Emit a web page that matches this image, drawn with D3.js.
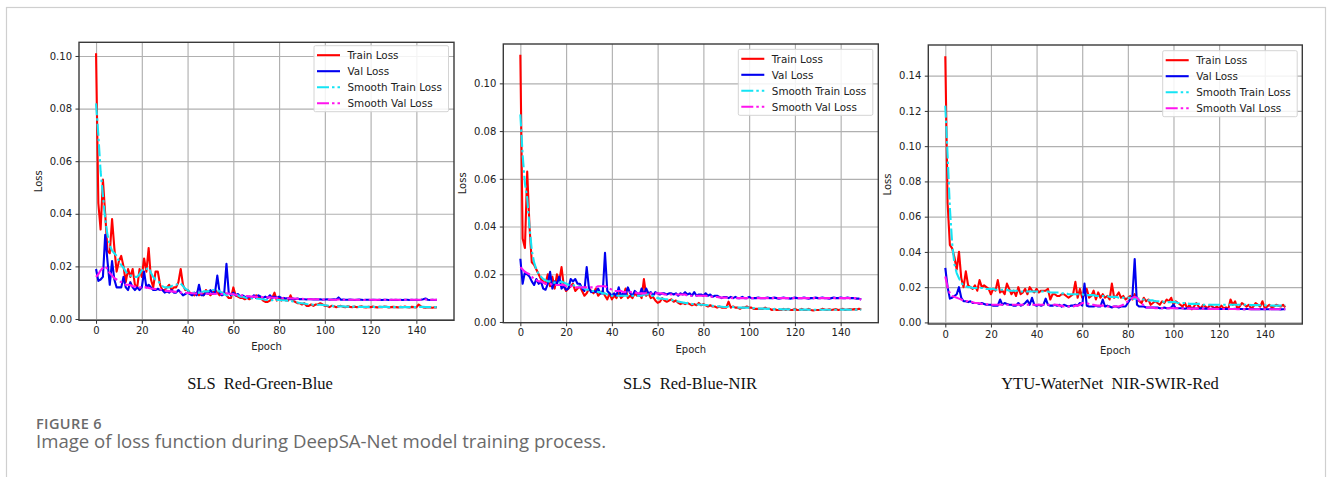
<!DOCTYPE html>
<html>
<head>
<meta charset="utf-8">
<script src="https://cdn.jsdelivr.net/npm/d3@7"></script>
<style>
  body { margin: 0; background: #fff; }
  svg { display: block; }
</style>
</head>
<body>
<div id="vis"></div>
<script>
const FRAME_WIDTH = 1330;
const FRAME_HEIGHT = 477;

// loss values, in units of 1e-3 (epochs 0..149)
const RGB_TRAIN = [
  101, 44, 34, 53, 40, 26, 25, 38, 27, 18,
  22, 24, 20, 14, 19, 16, 19, 13, 12, 19,
  16, 23, 18, 27, 15, 12, 18, 18, 13, 11,
  11, 12, 13, 11, 12, 12, 14, 19, 13, 11,
  11, 10, 9.5, 9, 10, 9, 10, 9, 11, 10,
  9, 10, 11, 10, 9, 10, 10, 9, 8, 8,
  12, 9, 8.5, 8, 8, 7.5, 8, 7.5, 8, 8.5,
  9, 8, 8, 7, 6.5, 6.5, 7, 8, 10, 7,
  8, 7, 8, 7, 7, 9, 7, 6.5, 6, 6,
  5.5, 6, 5, 5, 5.5, 5, 5.5, 5.5, 6, 5.5,
  5, 5, 4.5, 5, 4.8, 4.5, 4.8, 5, 4.6, 4.5,
  4.8, 4.6, 4.5, 4.7, 4.5, 4.6, 4.8, 4.5, 4.4, 4.6,
  4.5, 4.7, 4.5, 4.4, 4.6, 4.5, 4.7, 4.6, 4.4, 4.5,
  4.6, 4.5, 4.4, 4.6, 4.5, 4.7, 4.5, 4.4, 4.6, 4.5,
  4.4, 5.5, 4.8, 4.4, 4.3, 4.5, 4.4, 4.3, 4.5, 4.4
];
const RGB_VAL = [
  19, 14.5, 15, 16, 32, 22, 13, 22, 15, 12,
  12, 12, 16, 12, 11, 14, 12, 11, 12, 11,
  12, 18, 12, 13, 12, 11, 11, 11.5, 11, 11,
  10, 10.5, 10, 11, 10, 10, 11, 10, 9, 9.5,
  10, 9.5, 9, 10, 9, 13, 9, 9, 10, 9.5,
  11, 9.5, 10, 16.5, 10, 9, 9.5, 21, 10, 9,
  10, 9, 9.5, 8.5, 9, 8.5, 8, 8.5, 8, 9,
  8, 9, 8.5, 8, 8.5, 8, 9, 8, 8.5, 8,
  8.5, 8, 8, 7.8, 8, 7.5, 7.8, 7.5, 7.8, 7.5,
  7.6, 7.5, 7.4, 7.6, 7.5, 7.4, 7.5, 7.4, 7.5, 7.3,
  7.4, 7.5, 7.3, 7.4, 7.5, 7.4, 8.2, 7.3, 7.4, 7.3,
  7.3, 7.4, 7.3, 7.2, 7.3, 7.4, 7.3, 7.2, 7.3, 7.3,
  7.2, 7.3, 7.3, 7.2, 7.3, 7.2, 7.3, 7.3, 7.2, 7.3,
  7.2, 7.3, 7.2, 7.3, 7.2, 7.3, 7.3, 7.2, 7.3, 7.2,
  7.3, 7.2, 7.3, 7.5, 7.8, 7.3, 7.2, 7.3, 7.2, 7.3
];
const RGB_SMOOTH_TRAIN = [
  82, 70, 56, 47, 38, 32, 28, 26, 25, 24,
  22, 20.5, 19.5, 18, 17, 16.5, 16.5, 16, 16, 17,
  18.5, 19, 19, 19.5, 17.5, 16, 15, 14.5, 13.5, 12.5,
  12, 12, 12, 12.5, 13, 13, 13.5, 13.5, 12.5, 11.5,
  11, 10.5, 10, 10, 10, 10, 10, 10.5, 10.5, 10.5,
  11, 11, 11, 11, 10.5, 10, 9.5, 9, 9, 9,
  9.5, 9.5, 9, 8.5, 8.5, 8.2, 8, 8, 7.9, 7.8,
  7.8, 7.7, 7.6, 7.5, 7.3, 7.2, 7.1, 7.1, 7.3, 7.2,
  7.2, 7.1, 7.1, 7, 6.9, 6.9, 6.7, 6.5, 6.3, 6.1,
  6, 5.9, 5.7, 5.6, 5.5, 5.4, 5.4, 5.4, 5.4, 5.3,
  5.2, 5.1, 5, 5, 4.9, 4.9, 4.8, 4.8, 4.8, 4.7,
  4.7, 4.7, 4.7, 4.7, 4.6, 4.6, 4.6, 4.6, 4.6, 4.6,
  4.6, 4.6, 4.6, 4.6, 4.6, 4.6, 4.6, 4.6, 4.5, 4.5,
  4.5, 4.5, 4.5, 4.5, 4.5, 4.5, 4.5, 4.5, 4.5, 4.5,
  4.5, 4.6, 4.6, 4.6, 4.5, 4.5, 4.5, 4.5, 4.5, 4.5
];
const RGB_SMOOTH_VAL = [
  16, 17, 18.5, 19.5, 20, 19, 17.5, 16.5, 15.5, 15,
  14.5, 14, 13.5, 13, 13, 12.8, 12.5, 12.3, 12.2, 12,
  12, 12, 12, 11.8, 11.6, 11.5, 11.4, 11.3, 11.2, 11,
  10.8, 10.7, 10.6, 10.5, 10.4, 10.3, 10.2, 10.1, 10, 10,
  9.9, 9.8, 9.8, 9.7, 9.7, 9.8, 9.7, 9.6, 9.6, 9.6,
  9.6, 9.6, 9.5, 9.7, 9.6, 9.5, 9.4, 9.8, 9.7, 9.5,
  9.4, 9.2, 9.1, 9, 8.9, 8.8, 8.7, 8.6, 8.5, 8.5,
  8.4, 8.4, 8.3, 8.3, 8.2, 8.2, 8.2, 8.1, 8.1, 8,
  8, 8, 7.9, 7.9, 7.9, 7.8, 7.8, 7.8, 7.7, 7.7,
  7.7, 7.6, 7.6, 7.6, 7.5, 7.5, 7.5, 7.5, 7.4, 7.4,
  7.4, 7.4, 7.4, 7.3, 7.3, 7.3, 7.4, 7.4, 7.3, 7.3,
  7.3, 7.3, 7.3, 7.3, 7.3, 7.3, 7.3, 7.2, 7.3, 7.3,
  7.3, 7.3, 7.2, 7.3, 7.3, 7.3, 7.3, 7.3, 7.2, 7.3,
  7.3, 7.3, 7.3, 7.2, 7.3, 7.3, 7.3, 7.3, 7.3, 7.3,
  7.3, 7.3, 7.3, 7.4, 7.4, 7.4, 7.3, 7.3, 7.3, 7.3
];

const RBN_TRAIN = [
  112, 35, 31, 63, 40, 25, 24, 22, 20, 18,
  17, 16, 20, 15, 19, 14, 20, 17, 23, 15,
  13, 14, 15, 16, 13, 14, 15, 13, 11, 12,
  14, 13, 12, 14, 11, 12, 13, 11, 9.5, 12,
  9.5, 11, 10, 12, 10, 11, 14, 10, 11, 10,
  12, 11, 12, 10, 18, 11, 12, 10, 10.5, 9,
  8, 8.5, 10, 9, 8.5, 9, 9.5, 8.5, 9, 8,
  7.5, 8, 7.5, 8, 7.5, 7, 7.5, 7, 8, 7,
  7.5, 7, 6.5, 7, 6.5, 6.5, 6, 6.5, 6, 6,
  6, 8.5, 6, 6.5, 6, 6, 5.5, 6, 6, 6.5,
  6, 6, 5.5, 5.5, 5.5, 5.5, 5.5, 6, 5.5, 5.5,
  5, 5.5, 5, 5, 5, 5.5, 5, 5.5, 5, 5,
  5.5, 5, 5, 5.5, 5, 5, 5.5, 5, 4.8, 5,
  5, 5, 5.5, 5.2, 5, 5.3, 5, 5.2, 5.4, 5,
  5.2, 5.5, 5, 5.2, 5.4, 5.2, 5.4, 5.2, 5.5, 5.2
];
const RBN_VAL = [
  26.5, 16, 21, 20, 19, 17, 15.5, 18, 16, 17,
  14, 13.5, 16, 21, 14, 17, 16, 19, 14, 15,
  13.5, 14, 18, 17, 18, 16, 16, 14, 13, 23,
  14, 12.5, 13, 12.5, 14, 12, 12, 29, 13, 12,
  11, 12, 11, 14.5, 11, 12, 11.5, 14.5, 12, 11,
  13, 12, 11, 14, 11.5, 14, 12, 12.5, 11, 12.5,
  12, 11.5, 12, 12, 11.5, 12, 12, 11.5, 12, 11,
  12, 11.5, 12.5, 11.5, 12, 11, 12.5, 11, 11.5, 11.5,
  11, 12, 11, 11.5, 10.5, 11, 11, 10.5, 10, 10.5,
  10.5, 10, 10.5, 10, 10.5, 10, 10, 10.5, 10, 10,
  10.5, 10, 10, 10, 10.2, 10, 10, 10, 10.2, 10,
  10, 10.2, 10, 9.8, 10, 10.2, 10, 10, 9.8, 10,
  10.2, 10, 10, 10, 10.2, 10, 9.8, 10, 10, 10.2,
  10, 10, 10.2, 10, 10, 9.8, 10, 10.2, 10, 10,
  10.2, 10, 10, 10.2, 10, 10, 10, 9.8, 9.8, 9.4
];
const RBN_SMOOTH_TRAIN = [
  87, 70, 58, 52, 40, 30, 25, 22, 20, 19,
  18, 17.5, 17, 17, 16.5, 16.5, 16.5, 16.5, 17, 16.5,
  16, 15.5, 15.5, 15.5, 15, 15, 15, 14.5, 14, 13.5,
  13.5, 13, 13, 13, 12.5, 12.5, 12, 12, 11.5, 11.5,
  11, 11, 11, 11, 11, 11, 11, 11, 11, 11,
  11, 11, 11, 11, 11.5, 11.5, 11.5, 11, 11, 10.5,
  10, 9.8, 9.8, 9.6, 9.5, 9.3, 9.2, 9, 8.8, 8.6,
  8.4, 8.2, 8, 7.9, 7.8, 7.6, 7.5, 7.3, 7.3, 7.2,
  7.2, 7.1, 7, 6.9, 6.8, 6.7, 6.6, 6.5, 6.4, 6.3,
  6.3, 6.5, 6.4, 6.3, 6.2, 6.1, 6, 6, 6, 6,
  6, 5.9, 5.8, 5.7, 5.6, 5.6, 5.6, 5.6, 5.5, 5.5,
  5.5, 5.4, 5.4, 5.4, 5.3, 5.3, 5.3, 5.3, 5.3, 5.3,
  5.2, 5.2, 5.2, 5.2, 5.2, 5.2, 5.2, 5.1, 5.1, 5.1,
  5.1, 5.1, 5.1, 5.1, 5.1, 5.1, 5.1, 5.1, 5.1, 5.2,
  5.2, 5.2, 5.2, 5.2, 5.2, 5.2, 5.2, 5.2, 5.2, 5.2
];
const RBN_SMOOTH_VAL = [
  23, 22, 21, 20.5, 20, 19, 18, 17.5, 17, 17,
  16.5, 16, 16, 16, 15.5, 15.5, 15.5, 15.5, 15.5, 15.5,
  15, 15, 15, 15, 14.5, 14.5, 14.5, 14.5, 14.5, 14.5,
  14.5, 14.5, 14.5, 14.5, 15, 15, 15, 15, 14.5, 14,
  13.5, 13, 13, 13, 13, 12.5, 12.5, 12.5, 12.5, 12.5,
  12.5, 12, 12, 12, 12, 12, 12, 12, 12, 12,
  12, 12, 12, 11.5, 11.5, 11.5, 11.5, 11.5, 11.5, 11.5,
  11.5, 11.5, 11.5, 11, 11, 11, 11, 11, 11, 11,
  11, 11, 10.8, 10.8, 10.5, 10.5, 10.5, 10.3, 10.2, 10.2,
  10.2, 10.1, 10.1, 10, 10, 10, 10, 10, 10, 10,
  10, 10, 10, 10, 10, 10, 10, 10, 10, 10,
  10, 10, 10, 10, 10, 10, 10, 10, 10, 10,
  10, 10, 10, 10, 10, 10, 10, 10, 10, 10,
  10, 10, 10, 10, 10, 10, 10, 10, 10, 10,
  10, 10, 10, 10, 10, 10, 10, 9.9, 9.7, 9.4
];

const YTU_TRAIN = [
  151, 68, 44, 42, 37, 30, 40, 25, 20, 29,
  21, 20, 19, 21, 18, 24, 20, 21, 20, 19,
  16, 19, 18, 24, 17, 18, 16, 22, 19, 16,
  18, 15, 20, 16, 17, 19, 16, 20, 18, 17,
  19, 17, 18, 18, 18, 19, 13, 16, 16, 15,
  15, 16, 16, 15, 14, 15, 16, 23, 14, 19,
  14, 16, 19, 14, 15, 18, 13, 17, 14, 16,
  14, 15, 13, 22, 14, 15, 17, 14, 15, 13,
  14, 15, 13, 16, 14, 12, 11, 14, 12, 13,
  10, 11, 12, 11, 10, 12, 11, 13, 12, 14,
  10, 12, 11, 10, 9, 11, 8, 10, 7.5, 9,
  11, 9, 8, 10, 9, 8, 10, 9, 8, 9,
  8, 9.5, 8, 8.5, 7.5, 13, 10, 12, 8, 9,
  11, 10, 9, 10, 8, 9, 11, 10, 9, 12,
  8, 9, 10, 8.5, 9, 10, 9.5, 9, 10, 8.5
];
const YTU_VAL = [
  31, 20, 13.5, 14, 15, 16, 20, 14, 12, 12,
  11.5, 12, 11, 11, 11, 10.5, 11, 10.5, 10, 10,
  10, 9.5, 9.5, 9.5, 13, 10, 11, 10.5, 10, 10,
  9.5, 9.5, 11, 9.5, 10, 11, 12.5, 10, 14, 10,
  9.5, 10, 9.5, 10, 13.5, 10, 9.5, 9.5, 10, 9.5,
  10, 9, 10, 9.5, 9, 9.5, 9.5, 10, 9.5, 11,
  9.5, 22, 9.5, 9, 9, 9, 9.5, 9, 9, 13,
  9, 9.5, 9, 8.5, 9, 9, 8.5, 9, 9, 9,
  11, 13, 15, 36, 10, 9, 9, 9, 8.5, 8.5,
  8.5, 8.5, 8.5, 8.5, 8, 8, 8.5, 8, 8, 8.5,
  10, 8, 8, 8, 8, 7.8, 8, 8, 7.8, 8,
  7.8, 7.8, 8, 7.8, 7.8, 7.8, 7.6, 7.8, 7.8, 7.6,
  7.8, 7.6, 7.6, 7.8, 7.6, 7.6, 7.6, 7.8, 7.6, 7.6,
  7.6, 7.5, 7.6, 7.6, 7.5, 7.6, 7.5, 7.5, 7.6, 7.5,
  7.5, 7.5, 7.5, 7.6, 7.5, 7.5, 7.5, 7.4, 7.5, 7.5
];
const YTU_SMOOTH_TRAIN = [
  123, 95, 65, 45, 33, 28, 25, 22.5, 21, 20.5,
  20, 20, 19.5, 19.5, 19.5, 19.5, 19.5, 19.5, 19, 19,
  19, 19, 18.5, 18.5, 18.5, 18.5, 18.5, 18.5, 18, 18,
  18, 18, 18, 17.5, 17.5, 17.5, 17.5, 17.5, 17.5, 17.5,
  17.5, 17.5, 17.5, 17.5, 17.5, 17.5, 17, 17, 17, 17,
  17, 16.5, 16.5, 16.5, 16, 16, 16, 16, 16, 16,
  16, 15.5, 15.5, 15.5, 15.5, 15.5, 15, 15, 15, 15,
  15, 15, 14.5, 14.5, 14.5, 14.5, 14, 14, 14, 14,
  14, 14, 13.5, 13.5, 13.5, 13.5, 13, 13, 13, 12.5,
  12.5, 12.5, 12, 12, 12, 12, 11.5, 11.5, 11.5, 11.5,
  11.5, 11.5, 11, 11, 11, 11, 11, 10.5, 10.5, 10.5,
  10.5, 10.5, 10.5, 10, 10, 10, 10, 10, 10, 10,
  10, 10, 10, 10, 10, 10, 10, 10, 10, 10,
  10, 10, 10, 10, 9.8, 9.8, 9.8, 9.8, 9.7, 9.7,
  9.7, 9.6, 9.6, 9.6, 9.5, 9.5, 9.5, 9.5, 9.5, 9.5
];
const YTU_SMOOTH_VAL = [
  26, 20, 16.5, 15, 14.5, 14, 13.5, 13, 12.5, 12,
  12, 11.5, 11.5, 11, 11, 10.8, 10.5, 10.5, 10.3, 10.2,
  10, 10, 10, 10, 10, 10, 10, 10, 10, 10,
  10, 10, 10, 10, 10, 10, 10, 10, 10, 10,
  10, 10, 10, 10, 10, 10, 10, 10, 10, 10,
  9.5, 9.5, 9, 9, 9, 9, 9, 9.5, 9.5, 10,
  11, 11, 11, 10.5, 10, 10, 9.5, 9.5, 9.5, 9.5,
  9.5, 9, 9, 9, 9, 9, 9, 9.5, 10, 11,
  12, 13, 14, 14.5, 14, 12.5, 11, 9.5, 8.5, 8.5,
  8.5, 8.5, 8, 8, 8, 8, 8, 8, 8, 8,
  8, 8, 8, 7.9, 7.9, 7.9, 7.9, 7.8, 7.8, 7.8,
  7.8, 7.8, 7.8, 7.7, 7.7, 7.7, 7.7, 7.7, 7.6, 7.6,
  7.6, 7.6, 7.6, 7.6, 7.6, 7.6, 7.6, 7.6, 7.5, 7.5,
  7.5, 7.5, 7.5, 7.5, 7.5, 7.5, 7.5, 7.5, 7.5, 7.5,
  7.5, 7.5, 7.5, 7.5, 7.5, 7.5, 7.5, 7.5, 7.5, 7.5
];

const SERIES_NAMES = ["Train Loss", "Val Loss", "Smooth Train Loss", "Smooth Val Loss"];
const SERIES_COLORS = ["#ff0000", "#0000f0", "#14e4f4", "#ff14ee"];
const SERIES_DASH = [null, null, "12,3,2.5,3", "12,3,2.5,3"];

const X_TICKS = [0, 20, 40, 60, 80, 100, 120, 140];
const Y_TICKS_SHORT = [0, 0.02, 0.04, 0.06, 0.08, 0.10];
const Y_TICKS_LONG = [0, 0.02, 0.04, 0.06, 0.08, 0.10, 0.12, 0.14];

const CAPTIONS = ["SLS  Red-Green-Blue", "SLS  Red-Blue-NIR", "YTU-WaterNet  NIR-SWIR-Red"];
const FIGURE_LABEL = "FIGURE 6";
const FIGURE_TEXT = "Image of loss function during DeepSA-Net model training process.";

// layout of the three panels (pixels), measured on the figure
const PANELS = [
  {series: [RGB_TRAIN, RGB_VAL, RGB_SMOOTH_TRAIN, RGB_SMOOTH_VAL], yTicks: Y_TICKS_SHORT,
   left: 79, top: 42.3, right: 454, bottom: 320.3, yDomain: [-0.0005, 0.1052],
   legendX: 314, legendY: 45.7, captionX: 260},
  {series: [RBN_TRAIN, RBN_VAL, RBN_SMOOTH_TRAIN, RBN_SMOOTH_VAL], yTicks: Y_TICKS_SHORT,
   left: 503.3, top: 44, right: 878.3, bottom: 322.7, yDomain: [-0.0003, 0.1165],
   legendX: 738.3, legendY: 49.3, captionX: 690},
  {series: [YTU_TRAIN, YTU_VAL, YTU_SMOOTH_TRAIN, YTU_SMOOTH_VAL], yTicks: Y_TICKS_LONG,
   left: 928.3, top: 45, right: 1302.3, bottom: 324, yDomain: [-0.0009, 0.1574],
   legendX: 1162.7, legendY: 50.7, captionX: 1110}
];

const FRAME = d3.select("#vis")
                .append("svg")
                    .attr("width", FRAME_WIDTH)
                    .attr("height", FRAME_HEIGHT);

FRAME.append("rect")
        .attr("width", FRAME_WIDTH)
        .attr("height", FRAME_HEIGHT)
        .attr("fill", "#ffffff");

// light outer box of the figure
FRAME.append("rect")
        .attr("x", 6.5)
        .attr("y", 7.5)
        .attr("width", 1319)
        .attr("height", 490)
        .attr("fill", "none")
        .attr("stroke", "#cfcfcf")
        .attr("stroke-width", 1.2);

function drawPanel(p, idx) {
    const W = p.right - p.left;
    const H = p.bottom - p.top;

    const X_SCALE = d3.scaleLinear()
                        .domain([-7.45, 156.45])
                        .range([0, W]);
    const Y_SCALE = d3.scaleLinear()
                        .domain(p.yDomain)
                        .range([H, 0]);

    const G = FRAME.append("g")
                .attr("transform", "translate(" + p.left + "," + p.top + ")");

    // grid
    G.append("g")
        .attr("transform", "translate(0," + H + ")")
        .call(d3.axisBottom(X_SCALE).tickValues(X_TICKS).tickSize(-H).tickFormat(""))
        .call(g => g.select(".domain").remove())
        .selectAll("line")
            .attr("stroke", "#b0b0b0")
            .attr("stroke-width", 1.15);
    G.append("g")
        .call(d3.axisLeft(Y_SCALE).tickValues(p.yTicks).tickSize(-W).tickFormat(""))
        .call(g => g.select(".domain").remove())
        .selectAll("line")
            .attr("stroke", "#b0b0b0")
            .attr("stroke-width", 1.15);

    // loss curves
    const LINE = d3.line()
                    .x((d, i) => X_SCALE(i))
                    .y((d) => Y_SCALE(d / 1000));

    p.series.forEach((s, k) => {
        G.append("path")
            .datum(s)
            .attr("d", LINE)
            .attr("fill", "none")
            .attr("stroke", SERIES_COLORS[k])
            .attr("stroke-width", 2.1)
            .attr("stroke-linejoin", "round")
            .attr("stroke-dasharray", SERIES_DASH[k]);
    });

    // spines
    G.append("rect")
        .attr("width", W)
        .attr("height", H)
        .attr("fill", "none")
        .attr("stroke", "#3a3a3a")
        .attr("stroke-width", 1.4);

    // axes
    const xAxis = G.append("g")
        .attr("transform", "translate(0," + H + ")")
        .call(d3.axisBottom(X_SCALE).tickValues(X_TICKS).tickSize(3.5).tickPadding(3));
    const yAxis = G.append("g")
        .call(d3.axisLeft(Y_SCALE).tickValues(p.yTicks).tickFormat(d3.format(".2f")).tickSize(3.5).tickPadding(3.5));
    [xAxis, yAxis].forEach(ax => {
        ax.select(".domain").remove();
        ax.selectAll("line").attr("stroke", "#333").attr("stroke-width", 1);
        ax.selectAll("text")
            .attr("font-family", "DejaVu Sans")
            .attr("font-size", "10px")
            .attr("fill", "#222");
    });

    G.append("text")
        .attr("x", X_SCALE(74.5))
        .attr("y", H + 30)
        .attr("text-anchor", "middle")
        .attr("font-family", "DejaVu Sans")
        .attr("font-size", "10px")
        .attr("fill", "#222")
        .text("Epoch");

    G.append("text")
        .attr("transform", "translate(-37," + (H / 2) + ") rotate(-90)")
        .attr("text-anchor", "middle")
        .attr("font-family", "DejaVu Sans")
        .attr("font-size", "10px")
        .attr("fill", "#222")
        .text("Loss");

    // legend
    const LEG = FRAME.append("g")
                .attr("transform", "translate(" + p.legendX + "," + p.legendY + ")");
    LEG.append("rect")
        .attr("width", 134.5)
        .attr("height", 66)
        .attr("rx", 1.5)
        .attr("fill", "#ffffff")
        .attr("fill-opacity", 0.85)
        .attr("stroke", "#d4d4d4")
        .attr("stroke-width", 1);
    SERIES_NAMES.forEach((name, k) => {
        const yy = 9.5 + k * 16;
        LEG.append("line")
            .attr("x1", 3)
            .attr("x2", 26)
            .attr("y1", yy)
            .attr("y2", yy)
            .attr("stroke", SERIES_COLORS[k])
            .attr("stroke-width", 2.1)
            .attr("stroke-dasharray", SERIES_DASH[k]);
        LEG.append("text")
            .attr("x", 33.5)
            .attr("y", yy + 3.8)
            .attr("font-family", "DejaVu Sans")
            .attr("font-size", "10.4px")
            .attr("fill", "#222")
            .text(name);
    });

    // panel caption
    FRAME.append("text")
        .attr("x", p.captionX)
        .attr("y", 388.5)
        .attr("text-anchor", "middle")
        .attr("font-family", "Liberation Serif")
        .attr("font-size", "16.5px")
        .attr("fill", "#111")
        .style("white-space", "pre")
        .text(CAPTIONS[idx]);
}

PANELS.forEach(drawPanel);

FRAME.append("text")
        .attr("x", 36)
        .attr("y", 429)
        .attr("font-family", "Open Sans")
        .attr("font-size", "14.5px")
        .attr("font-weight", 600)
        .attr("letter-spacing", "0.4px")
        .attr("fill", "#6a6a6a")
        .text(FIGURE_LABEL);

FRAME.append("text")
        .attr("x", 36)
        .attr("y", 447.5)
        .attr("font-family", "Open Sans")
        .attr("font-size", "18.6px")
        .attr("fill", "#6a6a6a")
        .text(FIGURE_TEXT);
</script>
</body>
</html>
